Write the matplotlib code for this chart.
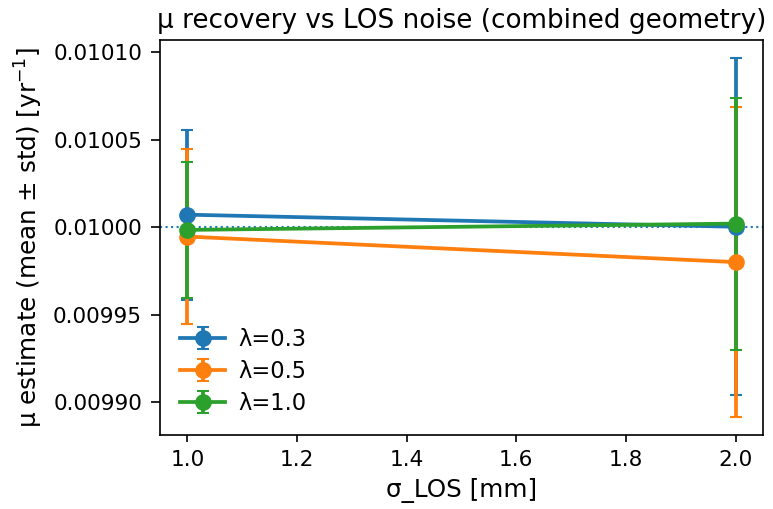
import matplotlib
matplotlib.use("Agg")
import matplotlib.pyplot as plt

sigma_los = [1.0, 2.0]
lambdas = ["0.3", "0.5", "1.0"]
mu_mean = [
    [0.0100071, 0.0100002],
    [0.0099946, 0.0099800],
    [0.0099984, 0.0100020],
]
mu_std = [
    [0.0000486, 0.0000963],
    [0.0000498, 0.0000886],
    [0.0000390, 0.0000720],
]
mu_true = 0.01

fig, ax = plt.subplots(figsize=(773 / 150, 509 / 150), dpi=150)

for lam, m, s in zip(lambdas, mu_mean, mu_std):
    ax.errorbar(sigma_los, m, yerr=s, marker="o", ms=7, capsize=3,
                lw=1.8, label=f"λ={lam}")

ax.axhline(mu_true, ls=":", lw=1)

ax.set_title("μ recovery vs LOS noise (combined geometry)", fontsize=12.6)
ax.set_xlabel("σ_LOS [mm]", fontsize=11.8)
ax.set_ylabel("μ estimate (mean ± std) [yr$^{-1}$]", fontsize=11.8)
ax.tick_params(labelsize=10.4)
ax.tick_params(axis="y", length=4.3, pad=4.3)
ax.legend(loc="lower left", frameon=False, fontsize=10.8,
          labelspacing=0.4, handletextpad=0.6)

fig.subplots_adjust(left=0.207, right=0.987, top=0.921, bottom=0.145)
fig.savefig("out.png", dpi=150)
